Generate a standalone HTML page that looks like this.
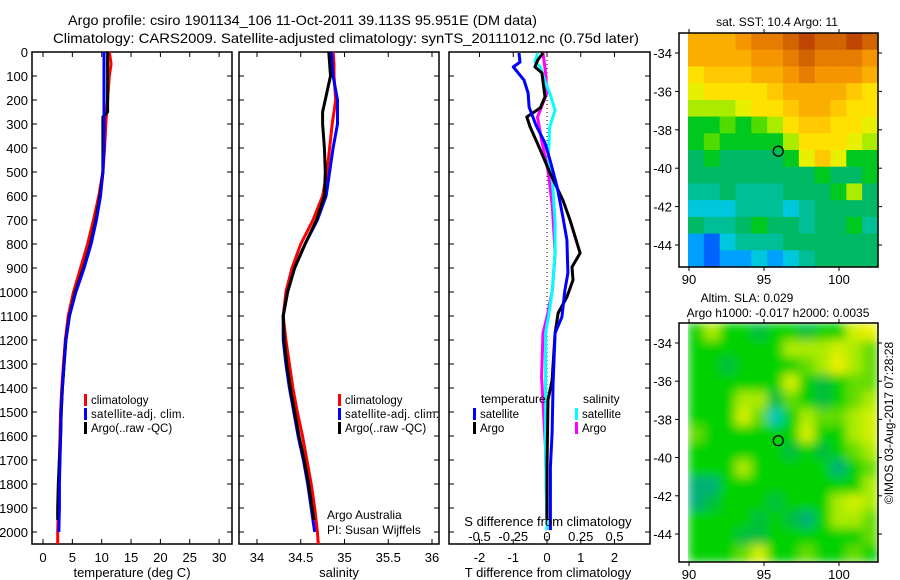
<!DOCTYPE html>
<html><head><meta charset="utf-8"><style>
html,body{margin:0;padding:0;background:#fff;}
svg{display:block;font-family:"Liberation Sans",sans-serif;}
</style></head><body>
<svg id="fig" width="900" height="580" viewBox="0 0 900 580" xmlns="http://www.w3.org/2000/svg">
<defs>
<filter id="smooth" x="688" y="323" width="190" height="239" filterUnits="userSpaceOnUse"><feGaussianBlur stdDeviation="5" edgeMode="duplicate"/></filter>
</defs>
<text x="68" y="25" font-size="14" textLength="469" lengthAdjust="spacingAndGlyphs">Argo profile: csiro 1901134_106 11-Oct-2011 39.113S 95.951E (DM data)</text>
<text x="53" y="43" font-size="14" textLength="586" lengthAdjust="spacingAndGlyphs">Climatology: CARS2009. Satellite-adjusted climatology: synTS_20111012.nc (0.75d later)</text>
<g id="g"></g>
</svg>
<script>
// ---- data ----
const depthTicks=[0,100,200,300,400,500,600,700,800,900,1000,1100,1200,1300,1400,1500,1600,1700,1800,1900,2000];
const tempTicks=[0,5,10,15,20,25,30];
const salTicks=[34,34.5,35,35.5,36];
const tdTicks=[-2,-1,0,1,2];
const sdTicks=[-0.5,-0.25,0,0.25,0.5];
const sdTickLabels=["-0.5","-0.25","0","0.25","0.5"];

const depthClim=[0,50,100,200,300,400,500,600,700,800,900,1000,1100,1200,1300,1400,1500,1600,1700,1800,1900,2000,2050];
const tempClim=[11.3,11.6,11.3,11.0,10.7,10.5,10.2,9.5,8.6,7.6,6.4,5.2,4.3,3.8,3.5,3.2,3.0,2.9,2.8,2.7,2.6,2.5,2.5];
const salClim=[34.87,34.88,34.88,34.9,34.86,34.83,34.8,34.75,34.64,34.5,34.4,34.33,34.3,34.33,34.37,34.41,34.46,34.52,34.57,34.62,34.66,34.69,34.7];
const depthSat=[0,50,100,200,300,400,500,600,700,800,900,1000,1100,1200,1300,1400,1500,1600,1700,1800,1900,2000];
const tempSat=[10.4,10.4,10.4,10.4,10.4,10.4,10.2,9.8,9.1,8.2,7.0,5.6,4.5,3.9,3.6,3.3,3.1,3.0,2.9,2.8,2.8,2.7];
const salSat=[34.85,34.86,34.87,34.92,34.92,34.87,34.83,34.79,34.69,34.55,34.43,34.35,34.3,34.3,34.33,34.37,34.42,34.47,34.53,34.58,34.62,34.66];
const depthArgo=[0,100,250,270,300,400,500,600,700,800,900,1000,1100,1200,1300,1400,1500,1600,1700,1800,1900,1950];
const tempArgo=[11.0,11.0,11.0,10.2,10.2,10.2,10.2,9.7,9.0,8.1,6.9,5.5,4.5,3.9,3.6,3.3,3.1,3.0,2.8,2.6,2.5,2.5];
const salArgo=[34.82,34.84,34.75,34.75,34.75,34.77,34.78,34.77,34.68,34.55,34.43,34.35,34.3,34.31,34.34,34.38,34.43,34.48,34.54,34.59,34.63,34.65];

const dDepthTS=[4,42,62,117,171,229,304,379,450,562,688,783,921,992,1104,1171,1379,1588,1729,1992];
const dTempSat=[-0.83,-0.8,-1.0,-0.68,-0.56,-0.53,-0.33,-0.06,0.09,0.3,0.47,0.59,0.62,0.53,0.44,0.24,0.18,0.15,0.1,0.1];
const dDepthTA=[4,33,62,87,187,233,271,312,408,504,617,700,838,896,950,1021,1088,1171,1367,1450,1729,1950];
const dTempArgo=[-0.12,-0.27,-0.36,-0.15,-0.06,-0.2,-0.6,-0.5,-0.2,0.09,0.47,0.68,0.98,0.74,0.77,0.59,0.33,0.24,0.15,0.03,0,0];
const dDepthSS=[4,42,62,129,171,242,312,437,533,712,838,992,1104,1171,1312,1658,1992];
const dSalSat=[-0.07,-0.09,-0.05,-0.01,0.02,0.06,0.02,0.01,0.04,0.06,0.06,0.04,0.01,-0.01,-0.01,-0.01,0];
const dDepthSA=[4,87,171,271,367,504,646,838,992,1104,1171,1354,1658,1992];
const dSalArgo=[-0.03,-0.01,0,-0.07,-0.04,0.01,0.04,0.06,0.04,0,-0.03,-0.04,-0.01,0];

const lonTicks=[90,95,100];
const latTicks=[-34,-36,-38,-40,-42,-44];
const floatLon=95.951, floatLat=-39.113;
const sstGrid=[
[6,6,6,6.5,7,7,7.5,8,7.5,7.5,8,7.5],
[6,6,6,6,6.5,6.5,7,7.5,7,7,7,6.5],
[5,5.5,5.5,5.5,6,6,6.5,7,6.5,6.5,6.5,6],
[4.5,5,5,5,5,5.5,6,6,6,6,5.5,5],
[4,4,4,4.5,5,5,5.5,6,6,5.5,5,5],
[3,3,3.5,3,3.5,4,5,5.5,5.5,5,5,4.5],
[3,3.5,3,3,3,3,4,5,5,5,4.5,4],
[2.5,3,2.5,2.5,2.5,2.5,3,4.5,5.5,4.5,3,3],
[2.5,2.5,2.5,2.5,2.5,2.5,2.5,2.5,3,2.5,2.5,3],
[2,2,2.5,2,2,2,2.5,2.5,2.5,3,4,2.5],
[1.5,1.5,1.5,2,2,2,1.5,2,2.5,2.5,2.5,2.5],
[2.5,2,2,2.5,3,2.5,2.5,2,2.5,2.5,3,2],
[1,0.5,1.5,2,2,2,2.5,2.5,2.5,2.5,2.5,2.5],
[1,0.5,1,1,1.5,1,1.5,2,2.5,2.5,2.5,2.5]];
const slaGrid=[
[2,3,2,2,1.5,2,2,1.5,2,2,3.5,4],
[2,2,2,2,2,2,3,3,3,3.5,3,2.5],
[2,2,1.5,2,2,2,2,2.5,3,4,3,2.5],
[2,2,2,2,2,2,3.5,2,1.5,2,2.5,2.5],
[2,2,2,3,3,1.5,2.5,2,1.5,2,2.5,3],
[2,2,2,3.5,2.5,0.5,2,3,2.5,2.5,3,3.5],
[2.5,2,2,2,2,2,2,3.5,2,2,3,3.5],
[2,2,2,2,2,2,1.5,2,1.5,2,2.5,3],
[2,2,2,3,2,2,2,2,2,1,2,2.5],
[1,1,2,2,2,2,2,2,2,2,2,3],
[1,1.5,2,2,2,1.5,2,2,2,3,3.5,3],
[2,2,2,2,1.5,2,1.5,1,2,3,3,2.5],
[2,2,2,1.5,1.5,2,2,2,2,2,2,2.5],
[2,2,2,2.5,3.5,2,2,2.5,2,2,2.5,2]];

// ---- helpers ----
const NS="http://www.w3.org/2000/svg";
const G=document.getElementById('g');
function el(tag,attrs,parent){const e=document.createElementNS(NS,tag);for(const k in attrs)e.setAttribute(k,attrs[k]);(parent||G).appendChild(e);return e;}
function txt(x,y,s,anchor,size,parent){const t=el('text',{x:x,y:y,'font-size':size||13,'text-anchor':anchor||'middle'},parent);t.textContent=s;return t;}
const yD=d=>52+d*0.24;
const xT=v=>43+v*5.87;
const xS=v=>257+(v-34)*87.5;
const xTD=v=>547+v*33.75;
const xSD=v=>547+v*135;

function panel(name,x0,x1,xticks,xf){
  const r=el('rect',{x:x0,y:52,width:x1-x0,height:492,fill:'none',stroke:'#000','stroke-width':1.5});
  
  
  depthTicks.forEach(d=>{
    el('line',{x1:x0,x2:x0+5,y1:yD(d),y2:yD(d),stroke:'#000'});
    el('line',{x1:x1-5,x2:x1,y1:yD(d),y2:yD(d),stroke:'#000'});
  });
  xticks.forEach(v=>{
    el('line',{x1:xf(v),x2:xf(v),y1:52,y2:57,stroke:'#000'});
    el('line',{x1:xf(v),x2:xf(v),y1:539,y2:544,stroke:'#000'});
    const t=txt(xf(v),562,String(v));
    
    
  });
}
function line(xs,ds,xf,color,name,w){
  const pts=xs.map((v,i)=>xf(v).toFixed(1)+','+yD(ds[i]).toFixed(1)).join(' ');
  const p=el('polyline',{points:pts,fill:'none',stroke:color,'stroke-width':w||3,'stroke-linejoin':'round'});
  
  
}
function legendEntry(x,y,color,label,name){
  el('rect',{x:x,y:y-10,width:3,height:12,fill:color});
  const t=txt(x+7,y,label,'start',11.5);
  
  
  return t;
}

// ---- panel 1 temperature ----
panel('temperature-panel',32,232,tempTicks,xT);
depthTicks.forEach(d=>{
  const t=txt(28,yD(d)+5,String(d),'end',13);
  
  
});
line(tempClim,depthClim,xT,'#f00','temp-climatology-line');
line(tempSat,depthSat,xT,'#00f','temp-satellite-line');
line(tempArgo,depthArgo,xT,'#000','temp-argo-line');
line(tempSat,depthSat,xT,'#00f','temp-satellite-line-top',2.5);
let t=txt(132,577,'temperature (deg C)');


legendEntry(84,404,'#f00','climatology','legend-climatology');
legendEntry(84,418,'#00f','satellite-adj. clim.','legend-satellite').setAttribute('textLength','94');
legendEntry(84,432,'#000','Argo(..raw -QC)','legend-argo');

// ---- panel 2 salinity ----
panel('salinity-panel',239,439,salTicks,xS);
line(salClim,depthClim,xS,'#f00','sal-climatology-line');
line(salSat,depthSat,xS,'#00f','sal-satellite-line');
line(salArgo,depthArgo,xS,'#000','sal-argo-line');
t=txt(339,577,'salinity');


legendEntry(338,404,'#f00','climatology','legend-climatology-2');
legendEntry(338,418,'#00f','satellite-adj. clim.','legend-satellite-2').setAttribute('textLength','94');
legendEntry(338,432,'#000','Argo(..raw -QC)','legend-argo-2');
t=txt(327,519,'Argo Australia','start',12);


t=txt(327,534,'PI: Susan Wijffels','start',12);



// ---- panel 3 differences ----
panel('difference-panel',449,650,tdTicks,xTD);
const z=el('line',{x1:xTD(0),x2:xTD(0),y1:52,y2:544,stroke:'#000','stroke-dasharray':'1,3'});


line(dSalArgo,dDepthSA,xSD,'#f0f','sdiff-argo-line');
line(dSalSat,dDepthSS,xSD,'#0ff','sdiff-satellite-line');
line(dTempArgo,dDepthTA,xTD,'#000','tdiff-argo-line');
line(dTempSat,dDepthTS,xTD,'#00f','tdiff-satellite-line');
t=txt(548,577,'T difference from climatology');


t=txt(548,526,'S difference from climatology');


sdTicks.forEach((v,i)=>{
  const s=txt(xSD(v),541,sdTickLabels[i]);
  
  
});
t=txt(481,403,'temperature','start',12);


t=txt(583,403,'salinity','start',12);


legendEntry(473,418,'#00f','satellite','legend-t-satellite');
legendEntry(473,432,'#000','Argo','legend-t-argo');
legendEntry(575,418,'#0ff','satellite','legend-s-satellite');
legendEntry(575,432,'#f0f','Argo','legend-s-argo');

// ---- maps ----
const sstCols=[[0,60,255],[0,100,255],[0,160,255],[0,200,220],[0,190,150],[0,185,100],[0,200,30],[80,220,0],[170,235,0],[230,240,0],[255,225,0],[255,200,0],[250,175,0],[245,150,0],[230,125,0],[210,100,0],[190,70,0]];
const slaCols=[[0,220,220],[0,200,180],[0,175,120],[0,190,60],[0,210,0],[100,220,0],[170,235,0],[210,240,0],[235,240,0]];
function cmap(cols,v){const i=Math.max(0,Math.min(cols.length-1,Math.round(v*2)));const c=cols[i];return 'rgb('+c.join(',')+')';}
function mapPanel(name,top,bottom,lat34,lat44,grid,cols,smooth){
  const x0=688,x1=878;
  const lx=v=>689+(v-90)*15;
  const ly=v=>lat34+(-34-v)*(lat44-lat34)/10;
  const nr=grid.length,nc=grid[0].length;
  const cw=(x1-x0)/nc,ch=(bottom-top)/nr;
  const cg=el('g',smooth?{filter:'url(#smooth)'}:{});
  
  
  grid.forEach((row,r)=>row.forEach((v,c)=>{
    const cell=el('rect',{x:(x0+c*cw).toFixed(2),y:(top+r*ch).toFixed(2),width:(cw+0.6).toFixed(2),height:(ch+0.6).toFixed(2),fill:cmap(cols,v)},cg);
    
    
  }));
  const fr=el('rect',{x:679,y:top,width:x1-679,height:bottom-top,fill:'none',stroke:'#000','stroke-width':1.5});
  
  
  latTicks.forEach(v=>{
    el('line',{x1:675,x2:679,y1:ly(v),y2:ly(v),stroke:'#000'});
    el('line',{x1:878,x2:882,y1:ly(v),y2:ly(v),stroke:'#000'});
    const s=txt(672,ly(v)+5,String(v),'end',13);
    
    
  });
  lonTicks.forEach(v=>{
    el('line',{x1:lx(v),x2:lx(v),y1:bottom,y2:bottom+4,stroke:'#000'});
    el('line',{x1:lx(v),x2:lx(v),y1:top-4,y2:top,stroke:'#000'});
    const s=txt(lx(v),bottom+17,String(v),'middle',13);
    
    
  });
  const m=el('circle',{cx:lx(floatLon),cy:ly(floatLat),r:5,fill:'none',stroke:'#000','stroke-width':1.3});
  
  
}
mapPanel('sst-map',33,267,53,245,sstGrid,sstCols,false);
mapPanel('sla-map',323,562,343,534,slaGrid,slaCols,true);
t=txt(777,26,'sat. SST: 10.4  Argo: 11','middle',12);


t=txt(747,302,'Altim. SLA: 0.029','middle',12);


t=txt(778,317,'Argo h1000: -0.017 h2000: 0.0035','middle',12);


t=el('text',{x:0,y:0,'font-size':12,'text-anchor':'middle',transform:'translate(893,423) rotate(-90)'});
t.textContent='\u00A9IMOS 03-Aug-2017 07:28:28';


</script>
</body></html>
